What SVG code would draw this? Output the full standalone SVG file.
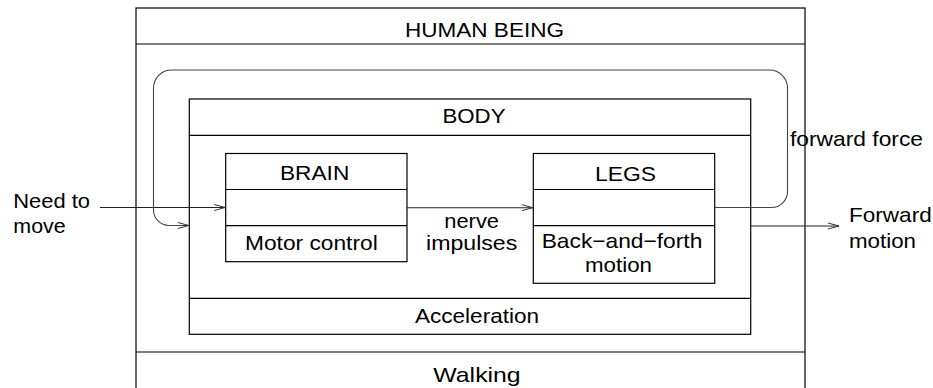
<svg xmlns="http://www.w3.org/2000/svg" width="933" height="388" viewBox="0 0 933 388">
  <style>
    .box { fill: none; stroke: #000; stroke-width: 1.2; }
    .sep { stroke: #000; stroke-width: 1.2; }
    .lbl { font-family: "Liberation Sans", Arial, sans-serif; font-size: 21px; fill: #000; }
    .sm { font-size: 20px; }
    .wire { fill: none; stroke: #222; stroke-width: 1.1; }
    .loop { fill: none; stroke: #444; stroke-width: 1.1; }
  </style>
  <defs>
    <marker id="arrow" markerWidth="12" markerHeight="8" refX="11" refY="4" orient="auto" markerUnits="userSpaceOnUse">
      <path d="M0,1 L11,4 L0,7" fill="none" stroke="#333" stroke-width="1"/>
    </marker>
  </defs>
  <rect width="933" height="388" fill="#fff"/>

  <!-- Outer system: human being -->
  <g id="human-being">
    <rect class="box" x="136" y="8" width="669" height="392"/>
    <line class="sep" x1="136" y1="44" x2="805" y2="44"/>
    <line class="sep" x1="136" y1="352" x2="805" y2="352"/>
    <text class="lbl" x="405" y="37.3" textLength="159" lengthAdjust="spacingAndGlyphs">HUMAN BEING</text>
    <text class="lbl" x="433.3" y="382" textLength="87.4" lengthAdjust="spacingAndGlyphs">Walking</text>
  </g>

  <!-- Body -->
  <g id="body">
    <rect class="box" x="189.3" y="99" width="561.4" height="235.3"/>
    <line class="sep" x1="189.3" y1="135.3" x2="750.7" y2="135.3"/>
    <line class="sep" x1="189.3" y1="298.3" x2="750.7" y2="298.3"/>
    <text class="lbl" x="442.5" y="123.3" textLength="63" lengthAdjust="spacingAndGlyphs">BODY</text>
    <text class="lbl" x="415" y="323.3" textLength="124" lengthAdjust="spacingAndGlyphs">Acceleration</text>
  </g>

  <!-- Brain -->
  <g id="brain">
    <rect class="box" x="225.7" y="153.5" width="181.3" height="108.2"/>
    <line class="sep" x1="225.7" y1="189.5" x2="407" y2="189.5"/>
    <line class="sep" x1="225.7" y1="225.7" x2="407" y2="225.7"/>
    <text class="lbl" x="280" y="179.8" textLength="69.3" lengthAdjust="spacingAndGlyphs">BRAIN</text>
    <text class="lbl" x="245" y="250" textLength="132.7" lengthAdjust="spacingAndGlyphs">Motor control</text>
  </g>

  <!-- Legs -->
  <g id="legs">
    <rect class="box" x="533.3" y="153.5" width="181.4" height="129.8"/>
    <line class="sep" x1="533.3" y1="189.5" x2="714.7" y2="189.5"/>
    <line class="sep" x1="533.3" y1="225.7" x2="714.7" y2="225.7"/>
    <text class="lbl" x="595" y="180.8" textLength="61" lengthAdjust="spacingAndGlyphs">LEGS</text>
    <text class="lbl" x="541.7" y="248" textLength="160.6" lengthAdjust="spacingAndGlyphs">Back−and−forth</text>
    <text class="lbl" x="585" y="271.7" textLength="67" lengthAdjust="spacingAndGlyphs">motion</text>
  </g>

  <!-- Connectors -->
  <g id="connectors">
    <!-- input need -->
    <line class="wire" x1="100" y1="207.5" x2="225.2" y2="207.5" marker-end="url(#arrow)"/>
    <!-- brain to legs -->
    <line class="wire" x1="407" y1="207.7" x2="532.8" y2="207.7" marker-end="url(#arrow)"/>
    <!-- feedback loop from legs back into body -->
    <path class="loop" d="M714.7,207.5 H771.5 A16,16 0 0 0 787.5,191.5 V88 A18,18 0 0 0 769.5,70 H171.5 A18,18 0 0 0 153.5,88 V210 A15.5,15.5 0 0 0 169,225.5 H188.8" marker-end="url(#arrow)"/>
    <!-- output motion -->
    <line class="wire" x1="750.7" y1="226" x2="839" y2="226" marker-end="url(#arrow)"/>
  </g>

  <!-- Connector labels -->
  <g id="labels">
    <text class="lbl" x="13.3" y="208.3" textLength="76.7" lengthAdjust="spacingAndGlyphs">Need to</text>
    <text class="lbl" x="13.3" y="233.3" textLength="52.4" lengthAdjust="spacingAndGlyphs">move</text>
    <text class="lbl sm" x="444.3" y="228.2" textLength="54.7" lengthAdjust="spacingAndGlyphs">nerve</text>
    <text class="lbl sm" x="426" y="250.3" textLength="91.3" lengthAdjust="spacingAndGlyphs">impulses</text>
    <text class="lbl" x="790" y="145.7" textLength="133" lengthAdjust="spacingAndGlyphs">forward force</text>
    <text class="lbl" x="849" y="222.3" textLength="82.7" lengthAdjust="spacingAndGlyphs">Forward</text>
    <text class="lbl" x="849" y="247.5" textLength="67" lengthAdjust="spacingAndGlyphs">motion</text>
  </g>
</svg>
